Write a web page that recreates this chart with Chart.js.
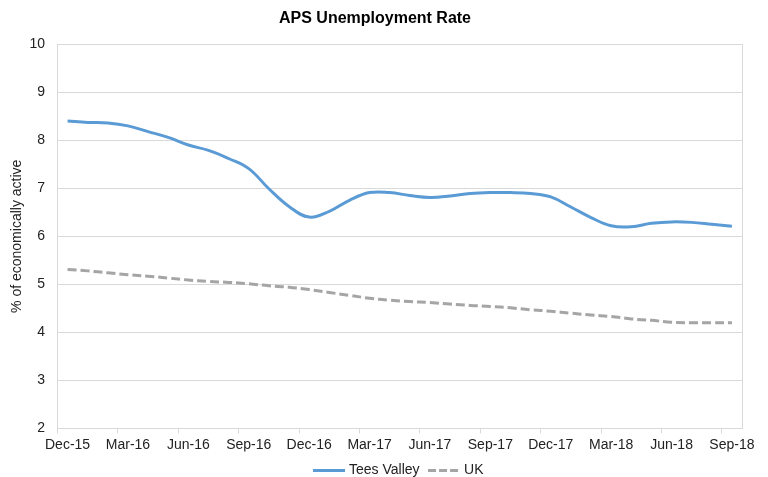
<!DOCTYPE html>
<html>
<head>
<meta charset="utf-8">
<script src="https://cdn.jsdelivr.net/npm/chart.js@4"></script>
<style>
	html, body { margin: 0; padding: 0; background: #fff; }
	#wrap { width: 768px; height: 477px; }
</style>
</head>
<body>
<div id="wrap"><canvas id="chart" width="768" height="477"></canvas></div>
<script>
// monthly rolling figures, Dec-15 .. Sep-18
const months = [
	'Dec-15', 'Jan-16', 'Feb-16', 'Mar-16', 'Apr-16', 'May-16', 'Jun-16', 'Jul-16', 'Aug-16',
	'Sep-16', 'Oct-16', 'Nov-16', 'Dec-16', 'Jan-17', 'Feb-17', 'Mar-17', 'Apr-17', 'May-17',
	'Jun-17', 'Jul-17', 'Aug-17', 'Sep-17', 'Oct-17', 'Nov-17', 'Dec-17', 'Jan-18', 'Feb-18',
	'Mar-18', 'Apr-18', 'May-18', 'Jun-18', 'Jul-18', 'Aug-18', 'Sep-18',
];

const teesValley = [
	8.40, 8.37, 8.36, 8.30, 8.18, 8.06, 7.90, 7.79, 7.62,
	7.41, 6.99, 6.62, 6.40, 6.52, 6.75, 6.91, 6.91, 6.85,
	6.81, 6.84, 6.89, 6.91, 6.91, 6.89, 6.82, 6.61, 6.39,
	6.22, 6.20, 6.27, 6.30, 6.29, 6.25, 6.21,
];

const uk = [
	5.31, 5.28, 5.24, 5.20, 5.17, 5.13, 5.09, 5.06, 5.04,
	5.01, 4.97, 4.94, 4.89, 4.83, 4.77, 4.71, 4.67, 4.64,
	4.62, 4.59, 4.56, 4.54, 4.51, 4.47, 4.44, 4.40, 4.36,
	4.33, 4.28, 4.25, 4.21, 4.20, 4.20, 4.20,
];

const FONT = "'Liberation Sans', Arial, sans-serif";
const TEXT = '#222222';
const GRID = '#d9d9d9';

// small line sample for the legend (point style images keep the dash)
function legendSample(color, dash) {
	const c = document.createElement('canvas');
	c.width = 32;
	c.height = 3;
	const g = c.getContext('2d');
	g.strokeStyle = color;
	g.lineWidth = 3;
	g.setLineDash(dash);
	g.beginPath();
	g.moveTo(0, 1.5);
	g.lineTo(32, 1.5);
	g.stroke();
	return c;
}

// light frame on the right of the plot area, like the excel original
const plotBorder = {
	id: 'plotBorder',
	beforeDatasetsDraw(chart) {
		const { ctx, chartArea: a } = chart;
		ctx.save();
		ctx.strokeStyle = GRID;
		ctx.lineWidth = 1;
		ctx.beginPath();
		ctx.moveTo(Math.round(a.right) + 0.5, a.top);
		ctx.lineTo(Math.round(a.right) + 0.5, a.bottom);
		ctx.stroke();
		ctx.restore();
	},
};

function createChart() {
	const ctx = document.getElementById('chart').getContext('2d');
	new Chart(ctx, {
		type: 'line',
		data: {
			labels: months,
			datasets: [
				{
					label: 'Tees Valley',
					data: teesValley,
					borderColor: '#5b9bd5',
					backgroundColor: '#5b9bd5',
					borderWidth: 3,
					pointRadius: 0,
					pointStyle: legendSample('#5b9bd5', []),
					tension: 0.4,
					fill: false,
				},
				{
					label: 'UK',
					data: uk,
					borderColor: '#a5a5a5',
					backgroundColor: '#a5a5a5',
					borderWidth: 3,
					borderDash: [9, 4],
					pointRadius: 0,
					pointStyle: legendSample('#a5a5a5', [8, 3]),
					tension: 0.4,
					fill: false,
				},
			],
		},
		options: {
			responsive: false,
			animation: false,
			layout: {
				padding: { top: 0, left: 8, right: 26, bottom: -10 },
			},
			plugins: {
				title: {
					display: true,
					text: 'APS Unemployment Rate',
					color: '#000',
					font: { family: FONT, size: 16, weight: 'bold' },
					padding: { top: 9, bottom: 16 },
				},
				legend: {
					position: 'bottom',
					fullSize: false,
					labels: {
						usePointStyle: true,
						pointStyleWidth: 26,
						padding: 11.5,
						color: TEXT,
						font: { family: FONT, size: 14 },
					},
				},
				tooltip: { enabled: false },
			},
			scales: {
				x: {
					offset: true,
					grid: {
						offset: true,
						drawOnChartArea: false,
						tickLength: 5,
						color: (c) => (c.index % 3 === 0 ? GRID : 'rgba(0,0,0,0)'),
					},
					border: { color: GRID },
					ticks: {
						autoSkip: false,
						maxRotation: 0,
						padding: 3,
						color: TEXT,
						font: { family: FONT, size: 14 },
						callback: (v, i) => (i % 3 === 0 ? months[i] : ''),
					},
					afterFit(scale) {
						scale.height -= 4.7;
					},
				},
				y: {
					min: 2,
					max: 10,
					grid: { color: GRID, drawTicks: false },
					border: { color: GRID },
					ticks: {
						stepSize: 1,
						padding: 12.5,
						color: TEXT,
						font: { family: FONT, size: 14 },
					},
					title: {
						display: true,
						text: '% of economically active',
						color: TEXT,
						font: { family: FONT, size: 14 },
						padding: { top: 1, bottom: 0 },
					},
					afterFit(scale) {
						scale.width = 49.5;
					},
				},
			},
		},
		plugins: [plotBorder],
	});
}

document.addEventListener('DOMContentLoaded', createChart);
</script>
</body>
</html>
